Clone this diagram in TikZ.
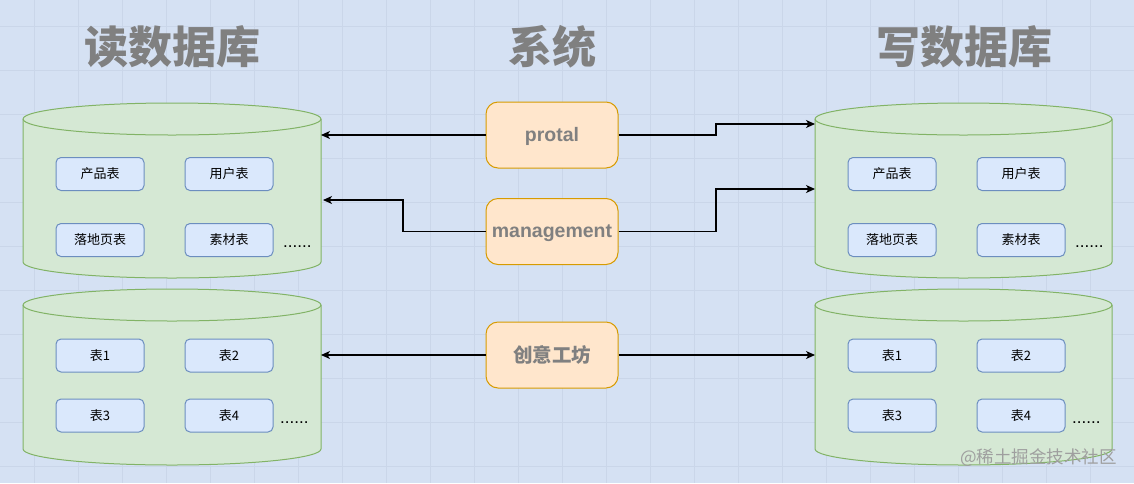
\documentclass[tikz,border=0pt]{standalone}
\usepackage{fontspec}
\setmainfont{Liberation Sans}
\newfontfamily\cjk{Noto Sans CJK SC}
\usetikzlibrary{arrows.meta}
\definecolor{bgblue}{HTML}{D5E1F3}
\definecolor{gridc}{HTML}{CAD6E9}
\definecolor{cylfill}{HTML}{D5E8D4}
\definecolor{cylline}{HTML}{82B366}
\definecolor{tblfill}{HTML}{DAE8FC}
\definecolor{tblline}{HTML}{6C8EBF}
\definecolor{sysfill}{HTML}{FFE6CC}
\definecolor{sysline}{HTML}{D79B00}
\definecolor{txtgray}{HTML}{808080}
\newcommand\dbcyl[5]{% name, x1, ytop, x2, ybottom (screen px)
  \pgfmathsetmacro\cylrx{(#4-#2)/2}%
  \pgfmathsetmacro\cylcx{(#4+#2)/2}%
  \pgfmathsetmacro\cylcy{(#3+#5)/2}%
  \pgfmathsetmacro\cylw{#4-#2}%
  \pgfmathsetmacro\cylh{#5-#3}%
  \filldraw[cyl] (#2,-#3-16) -- (#2,-#5+16)
     arc[start angle=180,end angle=360,x radius=\cylrx,y radius=16]
     -- (#4,-#3-16)
     arc[start angle=0,end angle=180,x radius=\cylrx,y radius=16] -- cycle;
  \draw[cyl,fill=none] (#2,-#3-16)
     arc[start angle=180,end angle=360,x radius=\cylrx,y radius=16];
  \node[inner sep=0pt,outer sep=0pt,minimum width=\cylw pt,minimum height=\cylh pt] (#1) at (\cylcx,-\cylcy) {};
}
\begin{document}
\begin{tikzpicture}[x=1pt,y=1pt,
  cyl/.style={fill=cylfill,draw=cylline,line width=1pt},
  tbl/.style={draw=tblline,fill=tblfill,rounded corners=5pt,minimum width=88pt,minimum height=33pt,inner sep=0pt,font=\cjk\fontsize{13}{13}\selectfont,line width=1pt},
  sys/.style={draw=sysline,fill=sysfill,rounded corners=12pt,minimum width=132pt,minimum height=66pt,inner sep=0pt,text=txtgray,font=\bfseries\fontsize{19.5}{20}\selectfont,line width=1pt},
  ltxt/.style={text height=14pt,text depth=0pt},
  ttl/.style={text=txtgray,font=\cjk\bfseries\fontsize{44}{44}\selectfont,inner sep=0pt},
  conn/.style={draw=black,line width=1.2pt,-{Stealth[length=9pt,width=8pt,inset=2.5pt]}},
  dots/.style={font=\fontsize{17}{17}\selectfont,inner sep=0pt,anchor=base west},
  gridline/.style={draw=gridc,line width=0.8pt}
]
\useasboundingbox (0,0) rectangle (1134,-483);
\fill[bgblue] (0,0) rectangle (1134,-483);
\foreach \i in {0,...,25} \draw[gridline] ({34.7+44*\i},0) -- ({34.7+44*\i},-483);
\foreach \j in {0,...,10} \draw[gridline] (0,{-26-44*\j}) -- (1134,{-26-44*\j});

% titles
\node[ttl] (t1) at (172,-47) {读数据库};
\node[ttl] (t2) at (552,-47) {系统};
\node[ttl] (t3) at (964,-47) {写数据库};

% cylinders
\dbcyl{rtop}{23}{103}{321}{278}
\dbcyl{rbot}{23}{289}{321}{465}
\dbcyl{wtop}{815}{103}{1112}{278}
\dbcyl{wbot}{815}{289}{1112}{465}

% tables, read db
\node[tbl] (r1) at (100,-174) {产品表};
\node[tbl] (r2) at (229,-174) {用户表};
\node[tbl] (r3) at (100,-240) {落地页表};
\node[tbl] (r4) at (229,-240) {素材表};
\node[dots] (rd1) at (283,-247) {......};
\node[tbl] (r5) at (100,-355.5) {表1};
\node[tbl] (r6) at (229,-355.5) {表2};
\node[tbl] (r7) at (100,-415.5) {表3};
\node[tbl] (r8) at (229,-415.5) {表4};
\node[dots] (rd2) at (280,-423) {......};

% tables, write db
\node[tbl] (w1) at (892,-174) {产品表};
\node[tbl] (w2) at (1021,-174) {用户表};
\node[tbl] (w3) at (892,-240) {落地页表};
\node[tbl] (w4) at (1021,-240) {素材表};
\node[dots] (wd1) at (1075,-247) {......};
\node[tbl] (w5) at (892,-355.5) {表1};
\node[tbl] (w6) at (1021,-355.5) {表2};
\node[tbl] (w7) at (892,-415.5) {表3};
\node[tbl] (w8) at (1021,-415.5) {表4};
\node[dots] (wd2) at (1072,-423) {......};

% systems
\node[sys] (protal) at (552,-135) {};
\node[sys] (mgmt) at (552,-231.5) {};
\node[sys,font=\cjk\bfseries\fontsize{19.5}{20}\selectfont] (cy) at (552,-355) {创意工坊};
\node[anchor=base,inner sep=0pt,text=txtgray,font=\bfseries\fontsize{19.5}{20}\selectfont] (protaltxt) at (552,-141) {protal};
\node[anchor=base,inner sep=0pt,text=txtgray,font=\bfseries\fontsize{19.5}{20}\selectfont] (mgmttxt) at (552,-237) {management};

% connector points
\coordinate (b1) at (716,-124);
\coordinate (wi1) at (815,-124);
\coordinate (b2) at (403,-200);
\coordinate (ri2) at (323,-200);
\coordinate (b3) at (716,-189);
\coordinate (wi2) at (815,-189);

\draw[conn] (protal.west) -- (protal.west -| rtop.east);
\draw[conn] (protal.east) -| (b1) -- (wi1);
\draw[conn] (mgmt.west) -| (b2) -- (ri2);
\draw[conn] (mgmt.east) -| (b3) -- (wi2);
\draw[conn] (cy.west) -- (cy.west -| rbot.east);
\draw[conn] (cy.east) -- (cy.east -| wbot.west);

% watermark
\node[anchor=base east,inner sep=0pt,text=gray!75,font=\cjk\fontsize{17.5}{18}\selectfont] (wm) at (1117,-463) {@稀土掘金技术社区};
\end{tikzpicture}
\end{document}
